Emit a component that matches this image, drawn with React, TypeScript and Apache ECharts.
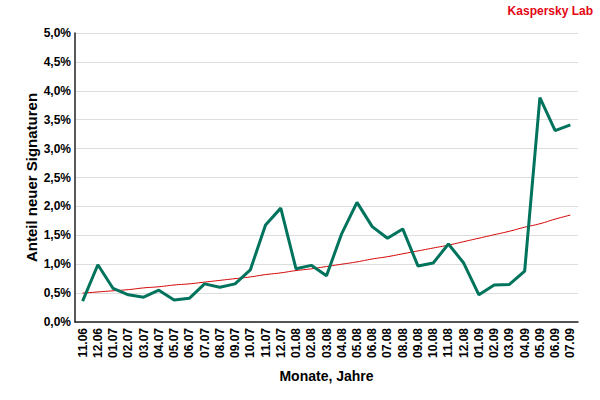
import React, { useEffect, useRef } from "react";
import * as echarts from "echarts";

const categories = [
  "11.06", "12.06", "01.07", "02.07", "03.07", "04.07", "05.07", "06.07", "07.07", "08.07", "09.07",
  "10.07", "11.07", "12.07", "01.08", "02.08", "03.08", "04.08", "05.08", "06.08", "07.08", "08.08",
  "09.08", "10.08", "11.08", "12.08", "01.09", "02.09", "03.09", "04.09", "05.09", "06.09", "07.09",
];

const shareValues = [
  0.36, 0.99, 0.58, 0.47, 0.43, 0.55, 0.38, 0.41, 0.66, 0.6, 0.66,
  0.9, 1.68, 1.97, 0.92, 0.98, 0.8, 1.53, 2.07, 1.65, 1.45, 1.61,
  0.97, 1.02, 1.35, 1.02, 0.47, 0.64, 0.65, 0.88, 3.88, 3.31, 3.41,
];

const trendValues = [
  0.5, 0.52, 0.54, 0.56, 0.59, 0.61, 0.64, 0.66, 0.69, 0.72, 0.75,
  0.78, 0.82, 0.85, 0.89, 0.92, 0.96, 1.0, 1.04, 1.09, 1.13, 1.18,
  1.23, 1.28, 1.33, 1.39, 1.45, 1.51, 1.57, 1.64, 1.7, 1.78, 1.85,
];

const FONT = "'Liberation Sans', Arial, sans-serif";

export default function App() {
  const ref = useRef<HTMLDivElement>(null);
  useEffect(() => {
    document.body.style.margin = "0";
    const chart = echarts.init(ref.current!, null, { renderer: "svg" });
    chart.setOption({
      animation: false,
      textStyle: { fontFamily: FONT },
      graphic: [
        {
          type: "text",
          right: 7,
          top: 5,
          style: {
            text: "Kaspersky Lab",
            fill: "#e30613",
            font: `bold 12px ${FONT}`,
          },
        },
      ],
      grid: { left: 75, right: 22, top: 33, bottom: 78 },
      xAxis: [
        {
          type: "category",
          data: categories,
          boundaryGap: true,
          name: "Monate, Jahre",
          nameLocation: "middle",
          nameGap: 47,
          nameTextStyle: { fontFamily: FONT, fontWeight: "bold", fontSize: 14, color: "#000" },
          axisLine: { lineStyle: { color: "#222", width: 1.5 } },
          axisTick: { length: 5, lineStyle: { color: "#222" } },
          axisLabel: {
            rotate: 90,
            interval: 0,
            margin: 6,
            fontFamily: FONT,
            fontWeight: "bold",
            fontSize: 12,
            color: "#000",
          },
        },
        {
          type: "category",
          data: categories,
          boundaryGap: true,
          position: "bottom",
          axisLine: { show: false },
          axisTick: { alignWithLabel: true, length: 5, lineStyle: { color: "#222" } },
          axisLabel: { show: false },
          splitLine: { show: false },
        },
      ],
      yAxis: {
        type: "value",
        min: 0,
        max: 5,
        interval: 0.5,
        name: "Anteil neuer Signaturen",
        nameLocation: "middle",
        nameGap: 36,
        nameMoveOverlap: false,
        nameTextStyle: { fontFamily: FONT, fontWeight: "bold", fontSize: 15, color: "#000" },
        axisLine: { show: true, lineStyle: { color: "#222", width: 1.5 } },
        axisTick: { show: false },
        splitLine: { lineStyle: { color: "#dddddd", width: 1 } },
        axisLabel: {
          margin: 4,
          fontFamily: FONT,
          fontWeight: "bold",
          fontSize: 12,
          color: "#000",
          formatter: (v: number) => v.toFixed(1).replace(".", ",") + "%",
        },
      },
      series: [
        {
          type: "line",
          data: trendValues,
          smooth: true,
          symbol: "none",
          lineStyle: { color: "#d40000", width: 1 },
          z: 2,
        },
        {
          type: "line",
          data: shareValues,
          symbol: "none",
          lineStyle: { color: "#00735d", width: 3 },
          z: 3,
        },
      ],
    });
    return () => chart.dispose();
  }, []);
  return <div ref={ref} style={{ width: 600, height: 400 }} />;
}
